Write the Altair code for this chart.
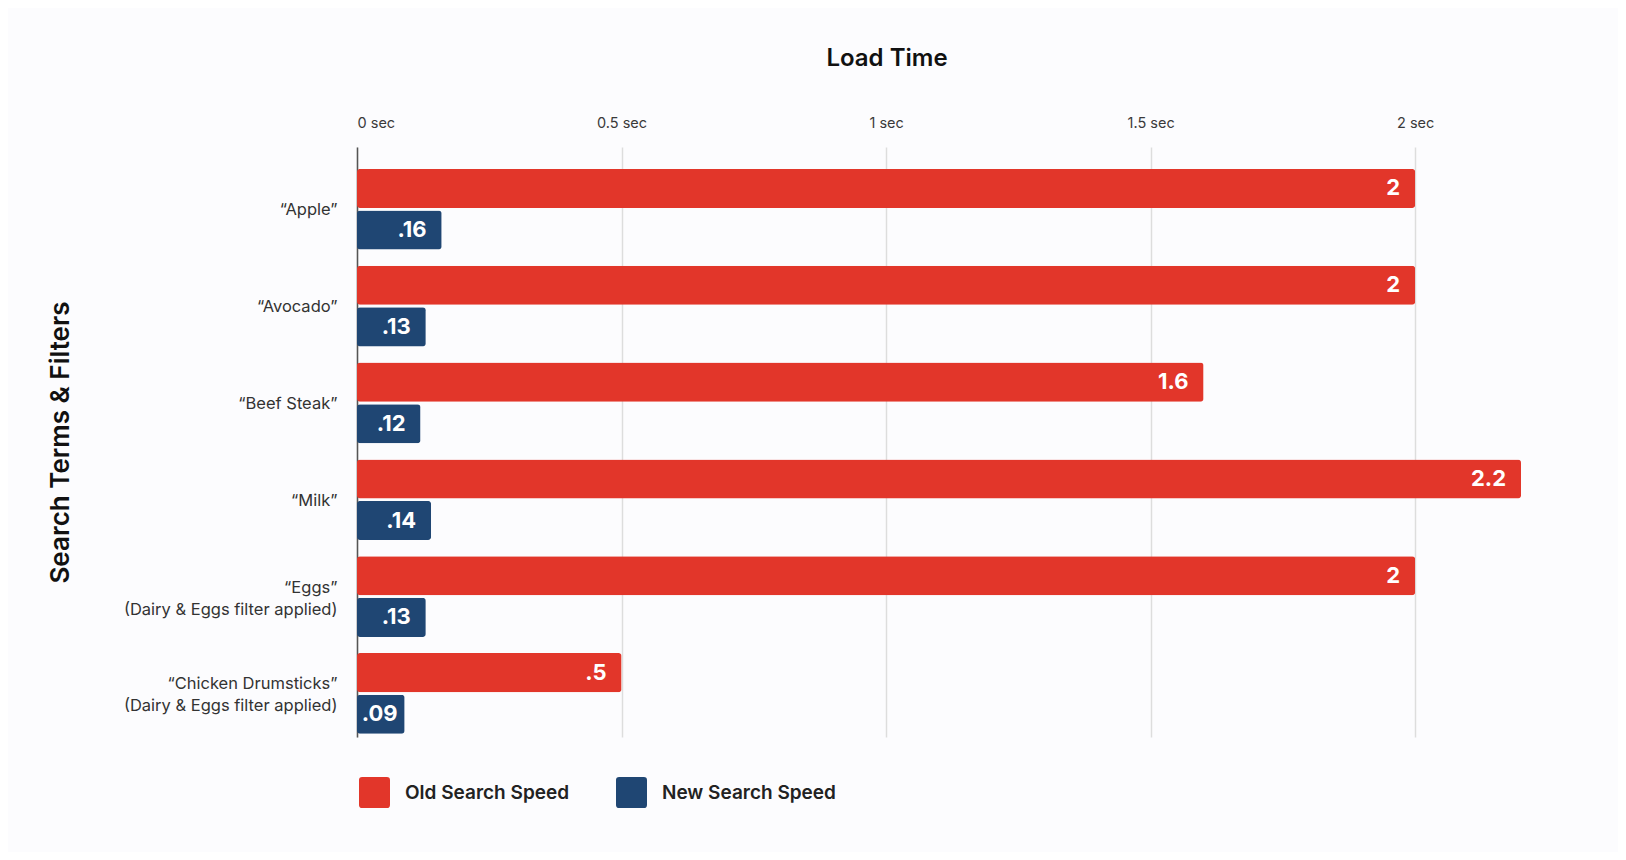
import altair as alt
import pandas as pd

categories = [
    "“Apple”",
    "“Avocado”",
    "“Beef Steak”",
    "“Milk”",
    "“Eggs”|(Dairy & Eggs filter applied)",
    "“Chicken Drumsticks”|(Dairy & Eggs filter applied)",
]
series = ["Old Search Speed", "New Search Speed"]
old_values = [2, 2, 1.6, 2.2, 2, 0.5]
new_values = [0.16, 0.13, 0.12, 0.14, 0.13, 0.09]
old_labels = ["2", "2", "1.6", "2.2", "2", ".5"]
new_labels = [".16", ".13", ".12", ".14", ".13", ".09"]
tick_values = [0, 0.5, 1, 1.5, 2]
colors = ["#E2362A", "#1F4673"]

rows = []
for c, v, l in zip(categories, old_values, old_labels):
    rows.append({"category": c, "series": series[0], "value": v, "label": l})
for c, v, l in zip(categories, new_values, new_labels):
    rows.append({"category": c, "series": series[1], "value": v, "label": l})
df = pd.DataFrame(rows)

W, H = 1164, 590
FONT = "Inter"

rounded_square = ("M -1 -0.8 Q -1 -1 -0.8 -1 L 0.8 -1 Q 1 -1 1 -0.8 L 1 0.8 "
                  "Q 1 1 0.8 1 L -0.8 1 Q -1 1 -1 0.8 Z")

y_enc = alt.Y(
    "category:N",
    sort=categories,
    scale=alt.Scale(paddingInner=0.167, paddingOuter=0.13, align=0.87),
    title="Search Terms & Filters",
    axis=alt.Axis(
        domain=True, domainColor="#555555", domainWidth=1.5,
        ticks=False, grid=False,
        labelPadding=20, labelFont=FONT, labelFontSize=16.5, labelColor="#333333",
        labelLineHeight=22, labelLimit=400,
        labelExpr="split(datum.label, '|')",
        labelOffset={"condition": {"test": "indexof(datum.value, '|') >= 0",
                                   "value": -9}, "value": 1},
        titleX=-297, titleY=H / 2, titleAngle=270, titleBaseline="middle",
        titleAlign="center", titleFont=FONT, titleFontSize=26,
        titleFontWeight=600, titleColor="#111111",
    ),
)
yoff_enc = alt.YOffset(
    "series:N", sort=series,
    scale=alt.Scale(paddingInner=0.06, paddingOuter=0),
)
x_scale = alt.Scale(domain=[0, 2.2], nice=False, zero=True)

bars = alt.Chart(df).mark_bar(cornerRadius=3).encode(
    x=alt.X(
        "value:Q", scale=x_scale, title=None,
        axis=alt.Axis(
            orient="top", values=tick_values, labelExpr="datum.value + ' sec'",
            domain=False, ticks=False, grid=True, gridColor="#DDDDDD",
            gridWidth=1.5, labelFont=FONT, labelFontSize=14.5,
            labelColor="#3A3A3A", labelPadding=17,
        ),
    ),
    y=y_enc,
    yOffset=yoff_enc,
    color=alt.Color(
        "series:N",
        scale=alt.Scale(domain=series, range=colors),
        legend=alt.Legend(
            orient="none", legendX=2, legendY=630, direction="horizontal",
            title=None, symbolType=rounded_square, symbolSize=961,
            symbolStrokeWidth=0, symbolOpacity=1,
            labelFont=FONT, labelFontSize=19, labelFontWeight=600,
            labelColor="#222222", labelOffset=15, columnPadding=46,
            padding=0, labelLimit=400,
        ),
    ),
)

texts = alt.Chart(df).transform_calculate(
    tx="max(datum.value, 0.105)"
).mark_text(
    align="right", baseline="middle", dx=-15, color="white",
    font=FONT, fontSize=22, fontWeight=700,
).encode(
    x=alt.X("tx:Q", scale=x_scale, title=None),
    y=alt.Y("category:N", sort=categories),
    yOffset=yoff_enc,
    text="label:N",
)

chart = alt.layer(bars, texts).properties(
    width=W,
    height=H,
    title=alt.TitleParams(
        "Load Time", font=FONT, fontSize=24, fontWeight=600, color="#111111",
        anchor="middle", frame="group", dx=-52, offset=44,
    ),
    padding={"left": 349, "top": 139, "right": 97, "bottom": 115},
    autosize=alt.AutoSizeParams(type="none"),
    background="#FCFCFE",
).configure_view(stroke=None)

chart.save("out.html", embed_options={"renderer": "svg", "actions": False})
